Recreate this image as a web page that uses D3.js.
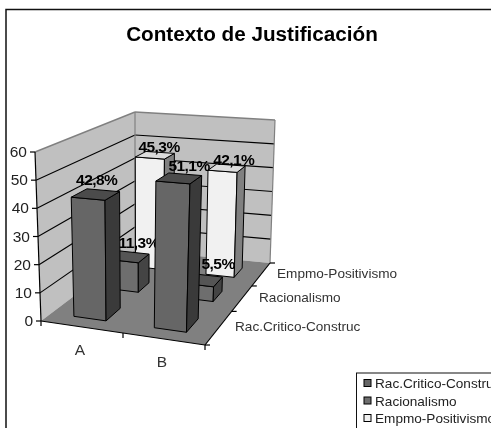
<!DOCTYPE html>
<html><head><meta charset="utf-8">
<style>html,body{margin:0;padding:0;background:#fff;overflow:hidden}svg{display:block;filter:blur(.35px)}text{font-family:"Liberation Sans",Arial,sans-serif}</style>
<script src="https://d3js.org/d3.v7.min.js"></script></head>
<body><svg id="c" width="491" height="428"></svg>
<script>
const title = "Contexto de Justificación";
const categories = ["A", "B"];
const seriesNames = ["Rac.Critico-Construc", "Racionalismo", "Empmo-Positivismo"];
const racCritico = [42.8, 51.1];
const racionalismo = [11.3, 5.5];
const empmoPositivismo = [45.3, 42.1];
const valueTicks = [0, 10, 20, 30, 40, 50, 60];
const seriesValues = [racCritico, racionalismo, empmoPositivismo];

const faces = [
  {front:"#666666", top:"#4b4b4b", side:"#3a3a3a"},
  {front:"#6e6e6e", top:"#555555", side:"#444444"},
  {front:"#f1f1f1", top:"#dcdcdc", side:"#808080"}
];
const svg = d3.select("#c");
const uScale = d3.scaleLinear().domain([0, 2]).range([0, 1]);
const vScale = d3.scaleLinear().domain([0, 1, 2, 3]).range([0, .41, .72, 1]);
const hScale = d3.scaleLinear().domain([0, 60]).range([0, 1]);
const C = {
  flb:[41,321], frb:[205,345], blb:[135,250], brb:[270,263],
  flt:[35,152], frt:[211,165], blt:[135,112], brt:[275,120]
};
const mix = (a,b,t)=>[a[0]+(b[0]-a[0])*t, a[1]+(b[1]-a[1])*t];
function P(u,v,h){
  const bot = mix(mix(C.flb,C.frb,u), mix(C.blb,C.brb,u), v);
  const top = mix(mix(C.flt,C.frt,u), mix(C.blt,C.brt,u), v);
  return mix(bot,top,h);
}
const poly = (g,pts,fill,stroke,sw)=>g.append("polygon").attr("points",pts.map(p=>p.join(",")).join(" "))
  .attr("fill",fill).attr("stroke",stroke||"none").attr("stroke-width",sw||1).attr("stroke-linejoin","round");
const seg = (g,a,b,stroke,sw)=>g.append("line").attr("x1",a[0]).attr("y1",a[1]).attr("x2",b[0]).attr("y2",b[1]).attr("stroke",stroke).attr("stroke-width",sw||1);

svg.append("rect").attr("x",6).attr("y",9.5).attr("width",520).attr("height",460).attr("fill","#fff").attr("stroke","#111").attr("stroke-width",1.5);
svg.append("text").attr("x",252).attr("y",40.5).attr("text-anchor","middle").attr("font-weight","bold").attr("font-size",20.7).attr("fill","#000").text(title);

const walls = svg.append("g");
poly(walls,[P(0,0,0),P(0,1,0),P(0,1,1),P(0,0,1)],"#c0c0c0");
poly(walls,[P(0,1,0),P(1,1,0),P(1,1,1),P(0,1,1)],"#c0c0c0");
poly(walls,[P(0,0,0),P(1,0,0),P(1,1,0),P(0,1,0)],"#808080");
valueTicks.filter(d=>d>0 && d<60).forEach(d=>{
  const h=hScale(d);
  seg(walls,P(0,0,h),P(0,1,h),"#000",1.1);
  seg(walls,P(0,1,h),P(1,1,h),"#000",1.1);
});
seg(walls,P(0,0,1),P(0,1,1),"#808080",1.4);
seg(walls,P(0,1,1),P(1,1,1),"#808080",1.4);
seg(walls,P(0,1,0),P(0,1,1),"#808080",1.2);
seg(walls,P(1,1,0),P(1,1,1),"#808080",1.2);

const axes = svg.append("g");
seg(axes,P(0,0,0),P(0,0,1),"#000",1.2);
seg(axes,P(0,0,0),P(1,0,0),"#000",1.2);
seg(axes,P(1,0,0),P(1,1,0),"#000",1.2);
valueTicks.forEach(d=>{
  const p=P(0,0,hScale(d));
  seg(axes,[p[0]-5,p[1]],p,"#000",1.2);
  axes.append("text").attr("x",p[0]-8).attr("y",p[1]+5).attr("text-anchor","end").attr("font-size",15.5).attr("fill","#222").text(d);
});
[0,1,2].forEach(i=>{
  const p=P(uScale(i),0,0);
  seg(axes,p,[p[0],p[1]+5],"#000",1.2);
});
categories.forEach((c,i)=>{
  const p=P(uScale(i+.5),0,0);
  axes.append("text").attr("x",p[0]-2).attr("y",p[1]+27.5).attr("text-anchor","middle").attr("font-size",15.5).attr("fill","#333").text(c);
});
[0,1,2,3].forEach(i=>{
  const p=P(1,vScale(i),0);
  seg(axes,p,[p[0]+5,p[1]],"#000",1.2);
});
const depthLabelX=[235,259,277], depthLabelY=[331,302,278];
seriesNames.forEach((s,i)=>{
  axes.append("text").attr("x",depthLabelX[i]).attr("y",depthLabelY[i]).attr("font-size",13.6).attr("fill","#333").text(s);
});

const labelFmt = d=>d3.format(".1f")(d).replace(".",",")+"%";
const barLo=.27, barHi=.68, uHalf=.1;
const labelDx=[[1,10],[10,15],[4,7]], labelDy=[[-9,-7],[-9,-11],[-3,-3]];
[2,1,0].forEach(si=>{
  const g=svg.append("g");
  const lab=[];
  categories.forEach((c,ci)=>{
    const val=seriesValues[si][ci], h=hScale(val);
    const uc=uScale(ci+.5)-.01, u0=uc-uHalf, u1=uc+uHalf;
    const v0=vScale(si+barLo), v1=vScale(si+barHi);
    const f=faces[si];
    poly(g,[P(u0,v0,0),P(u1,v0,0),P(u1,v0,h),P(u0,v0,h)],f.front,"#000",1);
    poly(g,[P(u1,v0,0),P(u1,v1,0),P(u1,v1,h),P(u1,v0,h)],f.side,"#000",1);
    poly(g,[P(u0,v0,h),P(u1,v0,h),P(u1,v1,h),P(u0,v1,h)],f.top,"#000",1);
    lab.push({p:P(uc,(v0+v1)/2,h),t:labelFmt(val),dx:labelDx[si][ci],dy:labelDy[si][ci]});
  });
  lab.forEach(l=>{
    g.append("text").attr("x",l.p[0]+l.dx).attr("y",l.p[1]+l.dy).attr("text-anchor","middle")
      .attr("font-weight","bold").attr("font-size",15.5).attr("letter-spacing",-.55).attr("fill","#000").text(l.t);
  });
});

const lg=svg.append("g");
lg.append("rect").attr("x",356.5).attr("y",373).attr("width",160).attr("height",80).attr("fill","#fff").attr("stroke","#111").attr("stroke-width",1);
seriesNames.forEach((s,i)=>{
  const y=383+i*17.5;
  lg.append("rect").attr("x",364).attr("y",y-3.5).attr("width",7).attr("height",7).attr("fill",faces[i].front).attr("stroke","#000");
  lg.append("text").attr("x",375).attr("y",y+5).attr("font-size",13.6).attr("fill","#222").text(s);
});
</script></body></html>
